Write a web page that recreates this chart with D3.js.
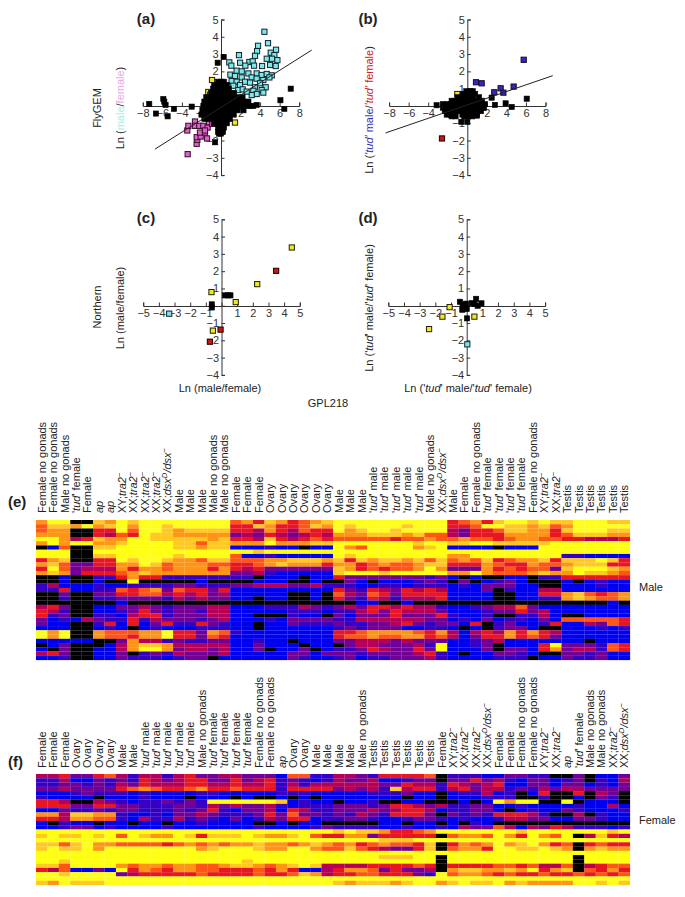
<!DOCTYPE html>
<html><head><meta charset="utf-8">
<script src="https://cdnjs.cloudflare.com/ajax/libs/d3/7.8.5/d3.min.js"></script>
<style>html,body{margin:0;background:#fff}svg{display:block}text{font-family:"Liberation Sans",Arial,sans-serif;fill:#222}</style>
</head><body><svg id="c" width="685" height="897"></svg>
<script>
// ---- scatter data (a) ----
const aCyan=[[4.44,4.29],[4.81,3.63],[3.79,3.48],[3.69,3.17],[5.63,3.25],[5.09,3.08],[3.48,2.9],[1.84,2.94],[5.46,2.94],[4.68,2.73],[5.22,2.73],[5.77,2.65],[.85,2.52],[1.95,2.5],[2.9,2.54],[3.24,2.58],[1.06,2.33],[2.49,2.33],[3.38,2.33],[4.2,2.31],[5.02,2.37],[5.6,2.31],[.96,1.81],[1.6,2.04],[2.12,2],[2.8,1.88],[3.65,1.88],[4.16,1.79],[4.68,1.85],[5.19,1.77],[1.43,1.73],[2.12,1.65],[3.14,1.65],[3.65,1.58],[4.33,1.5],[1.09,1.44],[1.6,1.4],[2.46,1.4],[2.97,1.35],[3.99,1.31],[4.95,1.65],[1.26,1.17],[1.95,1.21],[3.48,1.08],[4.57,1.08],[4.16,.92],[1.77,.92],[2.22,.96],[3.31,.88],[1.26,.69],[3.65,.69],[4.33,.77],[3.14,.63],[2.63,.83]];
const aMagenta=[[-3.41,-2.79],[-2.49,-2.19],[-2.42,-1.96],[-2.49,-1.81],[-1.43,-1.88],[-2.08,-1.77],[-2.15,-1.54],[-1.64,-1.54],[-3.45,-1.42],[-3.34,-1.15],[-2.66,-.9],[-2.66,-1.15],[-2.22,-1.15],[-1.81,-1.15],[-1.37,-1.25],[-1.23,-.94],[-.89,-1.04],[-1.64,-1.42]];
const aYellow=[[-.92,1.5],[-1.3,.81],[1.43,-.96],[-1.1,.65]];
const aBlackOut=[[-7.34,.12],[-6.66,-.44],[-5.9,.4],[-5.8,.25],[-5.67,.06],[-5.46,-.6],[-4.81,-.17],[-3,-.04],[-.34,2.5],[.27,2.83],[-.61,-2.1],[7.13,1],[6.08,.33],[6.48,-.17],[3.65,.06]];
const aCloudRows=[
[1.4,[-.3,0,.3]],
[1.2,[-.7,-.3,.1,.5,.6]],
[1,[-.8,-.4,0,.4,.8]],
[.75,[-1,-.6,-.2,.2,.6,1,1.3]],
[.5,[-1.5,-1.1,-.7,-.3,.1,.5,.9,1.3,1.7,2.2]],
[.25,[-1.7,-1.3,-.9,-.5,-.1,.3,.7,1.1,1.5,1.9,2.3,2.8]],
[0,[-1.8,-1.4,-1,-.6,-.2,.2,.6,1,1.4,1.8,2.2,2.6,3,3.3]],
[-.25,[-1.9,-1.5,-1.1,-.7,-.3,.1,.5,.9,1.3,1.7,2.3]],
[-.5,[-2,-1.6,-1.2,-.8,-.4,0,.4,.8,1.3]],
[-.75,[-1.7,-1.3,-.9,-.5,-.1,.3,.6,.9]],
[-1,[-.7,-.3,.1,.4,.6]],
[-1.25,[-.3,0,.3]],
[-1.5,[-.3,0,.2]],
[-1.6,[-.2,0]]];
const aLine=[[-6.76,-2.5],[9.28,3.23]];
// ---- scatter data (b) ----
const bBlue=[[.89,1.37],[1.47,1.31],[2.76,.79],[3.41,1.02],[3.69,.77],[4.74,1.12],[5.77,2.67]];
const bRed=[[-2.59,-1.88]];
const bYellow=[[-1.02,.69]];
const bBlackOut=[[2.49,.48],[6.08,.42],[3.92,.15],[4.54,-.06],[2.83,.06],[-3.14,.04],[-.61,-.92],[0,-.92],[.96,-.56]];
const bCloudRows=[
[.85,[-.1,.3,.55]],
[.7,[-.45,-.05,.35,.8]],
[.5,[-1,-.6,-.2,.2,.6,1.2]],
[.3,[-1.6,-1.2,-.8,-.4,0,.4,.8,1.2,1.5]],
[.1,[-2.5,-2.1,-1.7,-1.3,-.9,-.5,-.1,.3,.7,1.1,1.5,1.8]],
[-.1,[-2.5,-2.1,-1.7,-1.3,-.9,-.5,-.1,.3,.7,1.1,1.5,1.7]],
[-.3,[-2.3,-1.9,-1.5,-1.1,-.7,-.3,.1,.5,.9,1.4]],
[-.5,[-2.1,-1.7,-1.3,-.5,-.1,.3,.7,1]],
[-.6,[-1.6,-1.2,-.3,.1,.5]]];
const bLine=[[-8.36,-1.56],[8.74,1.75]];
// ---- scatter data (c) ----
const cYellow=[[4.49,3.37],[2.28,1.25],[.91,.21],[-.64,.79],[-.55,-1.44]];
const cRed=[[3.49,2.02],[-.06,-1.38],[-.74,-2.08]];
const cCyan=[[-3.34,-.46]];
const cBlack=[[.21,.6],[.43,.6],[.57,.6],[-.62,.08],[-.62,-.1]];
// ---- scatter data (d) ----
const dYellow=[[-2.4,-1.35],[-1.55,-.63],[-1.09,-.08],[.49,-.63]];
const dCyan=[[.04,-2.23]];
const dBlack=[[.02,-.73],[-.43,.23],[-.26,.06],[-.28,-.23],[-.04,.12],[0,-.19],[.32,.15],[.6,.4],[.7,0],[.94,.14],[.5,.1],[-.1,-.08],[-.2,-.1]];
// ---- axis ticks ----
const wideTicks=[-8,-6,-4,-2,0,2,4,6,8];
const narrowTicks=[-5,-4,-3,-2,-1,0,1,2,3,4,5];
const yTicks=[-4,-3,-2,-1,0,1,2,3,4,5];
// ---- heatmap levels (black to yellow) ----
const heatColors=["#000000","#0000f0","#3400c4","#720096","#b40058","#e81420","#ff5412","#ff9414","#ffc822","#ffff14"];
// ---- heatmap (e) labels ----
const maleLabels=["Fng","Fng","Mng","tf","Female","ap","ap","XYt","XXt","XXt","XXt","XXd","Male","Male","Male","Mng","Mng","Female","Female","Female","Ovary","Ovary","Ovary","Ovary","Ovary","Ovary","Male","Male","Male","tm","tm","tm","tm","tm","Mng","XXd","Male","Female","Fng","tf","tf","tf","tf","Fng","XYt","XXt","Testis","Testis","Testis","Testis","Testis","Testis"];
const maleRows=[
"79900879899999999675875678"+"99999999995675899898899988",
"68879789799899999558755687"+"98999989995569988786799999",
"67700559699878888554754655"+"97899899994355688775899988",
"77700546598877777343543454"+"77788878664355577775688877",
"99745877998888878554854565"+"66666566766766567766554445",
"79799778999988688777977788"+"99999998998899888889999999",
"01600889999988788111211011"+"97699997891111011199999999",
"99900999999999999998999999"+"99999999999999999999999999",
"99900889999989999611211111"+"98999999997799999999221111",
"57800559899877688666778887"+"85878878686768567785888985",
"78633557798677766556787775"+"77567667885557655766788855",
"59634447577677757545333333"+"87565667973337565663899987",
"78735556787777777334211111"+"89998999997797666787798876",
"00100225755222222220111011"+"53333333231010011022555555",
"00100100900000100001110010"+"03101112320301231000101211",
"24111211222233222334443342"+"22112212221213331100111211",
"22511226567365535111111111"+"53254354541113021144111111",
"00300335566454534111110010"+"64365355551111001155786567",
"00200223333243433110110010"+"53254244451111001122787667",
"00000001000000000000000000"+"00110010000000000000000010",
"45300113343233344111222432"+"34355454421123446311111111",
"54200112353233244111112221"+"22453544431112335341111111",
"52300221455233344110002110"+"31333533352112002241001111",
"31214322524333234111213333"+"22444444331213122131666665",
"31100251513522532110113222"+"32233453233150231125114365",
"11100121012111222110111111"+"23233311221010233100111212",
"97900766677955376211111111"+"55677776574145475754111111",
"97900766577955365111111111"+"56676677564135575653111111",
"11111003744232233112110111"+"33444343331123411111110111",
"01300014788744444113111011"+"03443334291123011159333265",
"10300114799734434113011301"+"22354335391113033157344265",
"45300113023243334111113313"+"33233334521011332100332311",
"11200113222123301111113211"+"23122333421111222011322311"];
// ---- heatmap (f) labels ----
const femaleLabels=["Female","Female","Female","Ovary","Ovary","Ovary","Ovary","Male","Male","tm","tm","tm","tm","tm","Mng","tf","tf","tf","tf","Fng","Fng","ap","Ovary","Ovary","Male","Male","Male","Male","Mng","Testis","Testis","Testis","Testis","Testis","Testis","Female","XYt","XXt","XXt","XXd","Female","Female","Fng","Fng","XYt","XXt","ap","tf","Mng","Mng","XXt","XXd"];
const femaleRows=[
"44533564244245334433316622"+"44325555602221133220030113",
"22411323254345533534523212"+"43341123303353421331230214",
"22332324354445544544524244"+"44443354425434511331331213",
"33433335676556755655525555"+"34342845524534423243443333",
"11123222121111221111122211"+"11122231101224120150050430",
"21111011121110111010010101"+"11111101101112220020010320",
"55400432122323299999981211"+"01120011000101979900901110",
"55533553322233243433421222"+"33323554342233112111121141",
"11322323322232352133415422"+"33343455412233101211321112",
"77488772112133432223536332"+"32432555303232555420040211",
"55477662142242321312435512"+"23321123321211244331133211",
"10211011011011211110010110"+"00001101101021000000000000",
"11233121111211111112111123"+"22221121121433641435422212",
"99999999999999999999999999"+"89887556799999998999999989",
"89889896987798588898778965"+"57735555506776975976904854",
"99999999999999999999999999"+"99998889999999999999999999",
"88689776666567676778776787"+"67567665805767978975605655",
"89889799999999789998779976"+"68654335806775998898707877",
"99999999999999999999999999"+"99999999999999999999999999",
"99999999999999999999999999"+"99998889909999999999909999",
"99899999999999999989999999"+"99999999909999999999909999",
"88699997677677667887678984"+"44455556505555665644604566",
"54611319576577665556575114"+"57763533407887787957806575",
"99899993455555655556556874"+"55665553296776565565565656",
"99999999999999999999999999"+"99999999999999999999999999",
"87988899999999999999999999"+"87888789978988978777799898"];

const svg=d3.select("#c");
const defs=svg.append("defs");
defs.append("filter").attr("id","soft").append("feGaussianBlur").attr("stdDeviation",0.45);
defs.append("filter").attr("id","softM").append("feGaussianBlur").attr("stdDeviation",0.3);
const FS=11;
const C={cyan:"#7ee8e2",mag:"#e25cd2",yel:"#f2e62a",blue:"#3a22c2",red:"#c81414",maleC:"#a8ece8",femC:"#eca8e4",tudM:"#3a30b0",tudF:"#d02020"};

function rich(sel,parts){
  parts.forEach(p=>{
    const t=sel.append("tspan").text(p.t);
    if(p.i)t.attr("font-style","italic");
    if(p.c)t.style("fill",p.c);
    if(p.sup)t.attr("font-size",FS*.7).attr("dy",-4);
    if(p.down)t.attr("dy",p.down);
  });
}
function label(x,y,parts,o={}){
  const t=svg.append("text").attr("font-size",o.fs||FS).attr("text-anchor",o.anchor||"middle");
  if(o.rot)t.attr("transform",`translate(${x},${y}) rotate(-90)`);else t.attr("x",x).attr("y",y);
  if(o.bold)t.attr("font-weight","bold");
  rich(t,typeof parts==="string"?[{t:parts}]:parts);
}
function axes(cx,cy,xs,ys,ticks){
  const g=svg.append("g");
  const fmt=d=>d===0?"":d3.format("d")(d);
  const xa=g.append("g").attr("transform",`translate(0,${cy})`)
    .call(d3.axisBottom(xs).tickValues(ticks).tickSize(-3.5).tickSizeOuter(-3.5).tickPadding(3).tickFormat(fmt));
  const ya=g.append("g").attr("transform",`translate(${cx},0)`)
    .call(d3.axisLeft(ys).tickValues(yTicks).tickSize(-3.5).tickSizeOuter(-3.5).tickPadding(2.5).tickFormat(fmt));
  [xa,ya].forEach(a=>{a.attr("font-family",null).attr("font-size",FS);
    a.selectAll("path,line").attr("stroke","#333").attr("stroke-width",1);
    a.selectAll("text").style("fill","#333");});
}
function marks(xs,ys,pts,fill,stroke,sw){
  svg.append("g").attr("filter","url(#softM)").selectAll("rect").data(pts).join("rect")
    .attr("x",d=>xs(d[0])-2.6).attr("y",d=>ys(d[1])-2.6).attr("width",5.2).attr("height",5.2)
    .attr("fill",fill).attr("stroke",stroke).attr("stroke-width",sw);
}
function panel(cx,xHalf,unitTicks,cy,yTop,maxV){
  const xs=d3.scaleLinear().domain([-maxV,maxV]).range([cx-xHalf,cx+xHalf]);
  const ys=d3.scaleLinear().domain([-4,5]).range([yTop+155.6,yTop]);
  axes(cx,cy,xs,ys,unitTicks);
  return {xs,ys};
}
const expand=rows=>rows.flatMap(([y,xsv])=>xsv.map(x=>[x,y]));
function fitLine(p,pts){
  svg.append("path").datum(pts).attr("fill","none").attr("stroke","#222").attr("stroke-width",1)
    .attr("d",d3.line().x(d=>p.xs(d[0])).y(d=>p.ys(d[1])));
}
// panel a
const pa=panel(221,78.2,wideTicks,106,19.5,8);
marks(pa.xs,pa.ys,aCyan,C.cyan,"#123",1);
marks(pa.xs,pa.ys,aMagenta,C.mag,"#312",1);
marks(pa.xs,pa.ys,aYellow,C.yel,"#220",1);
marks(pa.xs,pa.ys,aBlackOut.concat(expand(aCloudRows)),"#000","#000",.6);
fitLine(pa,aLine);
// panel b
const pb=panel(467.3,78.2,wideTicks,106,19.5,8);
marks(pb.xs,pb.ys,bBlue,C.blue,"#112",1);
marks(pb.xs,pb.ys,bRed,C.red,"#200",1);
marks(pb.xs,pb.ys,bYellow,C.yel,"#220",1);
marks(pb.xs,pb.ys,bBlackOut.concat(expand(bCloudRows)),"#000","#000",.6);
fitLine(pb,bLine);
// panel c
const pc=panel(221.5,78.3,narrowTicks,306,219.3,5);
marks(pc.xs,pc.ys,cYellow,C.yel,"#220",1);
marks(pc.xs,pc.ys,cRed,C.red,"#200",1);
marks(pc.xs,pc.ys,cCyan,C.cyan,"#123",1);
marks(pc.xs,pc.ys,cBlack,"#000","#000",.6);
// panel d
const pd=panel(466.7,78.4,narrowTicks,306,219.3,5);
marks(pd.xs,pd.ys,dBlack,"#000","#000",.6);
marks(pd.xs,pd.ys,dYellow,C.yel,"#220",1);
marks(pd.xs,pd.ys,dCyan,C.cyan,"#123",1);
// panel letters
[["(a)",146,24],["(b)",368,24],["(c)",146,223],["(d)",368,223]].forEach(d=>label(d[1],d[2],d[0],{fs:15,bold:true}));
label(8,507,"(e)",{fs:15,bold:true,anchor:"start"});
label(8,767,"(f)",{fs:15,bold:true,anchor:"start"});
// axis titles
const tudPlain=[{t:"Ln ('"},{t:"tud",i:1},{t:"' male/'"},{t:"tud",i:1},{t:"' female)"}];
label(101,108,"FlyGEM",{rot:true});
label(124,108,[{t:"Ln ("},{t:"male",c:C.maleC},{t:"/"},{t:"female",c:C.femC},{t:")"}],{rot:true});
label(373,110,[{t:"Ln ("},{t:"'tud'",i:1,c:C.tudM},{t:" male",c:C.tudM},{t:"/"},{t:"'tud'",i:1,c:C.tudF},{t:" female",c:C.tudF},{t:")"}],{rot:true});
label(101,307,"Northern",{rot:true});
label(124,308,"Ln (male/female)",{rot:true});
label(373,308,tudPlain,{rot:true});
label(220,392,"Ln (male/female)");
label(468,392,tudPlain);
label(328,407,"GPL218");
label(639,591,"Male",{anchor:"start"});
label(639,824,"Female",{anchor:"start"});
// heatmaps
const levelColor=d3.scaleOrdinal(d3.range(10),heatColors);
const labelParts={
 Fng:[{t:"Female no gonads"}],Mng:[{t:"Male no gonads"}],
 tf:[{t:"'"},{t:"tud",i:1},{t:"' female"}],tm:[{t:"'"},{t:"tud",i:1},{t:"' male"}],
 ap:[{t:"ap",i:1}],
 XYt:[{t:"XY;"},{t:"tra2",i:1},{t:"−",sup:1}],
 XXt:[{t:"XX;"},{t:"tra2",i:1},{t:"−",sup:1}],
 XXd:[{t:"XX;"},{t:"dsx",i:1},{t:"D",i:1,sup:1},{t:"/dsx",i:1,down:4},{t:"−",sup:1}]};
function heat(rows,labels,y0,y1,labelY){
  const x=d3.scaleBand().domain(d3.range(labels.length)).range([36,630]);
  const y=d3.scaleBand().domain(d3.range(rows.length)).range([y0,y1]);
  const cells=rows.flatMap((r,i)=>Array.from(r,(ch,j)=>({i,j,v:+ch})));
  svg.append("g").attr("filter","url(#soft)").selectAll("rect").data(cells).join("rect")
    .attr("x",d=>x(d.j)).attr("y",d=>y(d.i)).attr("width",x.bandwidth()+.1).attr("height",y.bandwidth()+.1)
    .attr("fill",d=>levelColor(d.v));
  labels.forEach((l,j)=>label(x(j)+x.bandwidth()/2+4,labelY,labelParts[l]||l,{rot:true,anchor:"start"}));
}
heat(maleRows,maleLabels,520,660,513);
heat(femaleRows,femaleLabels,774,885,768);
</script></body></html>
